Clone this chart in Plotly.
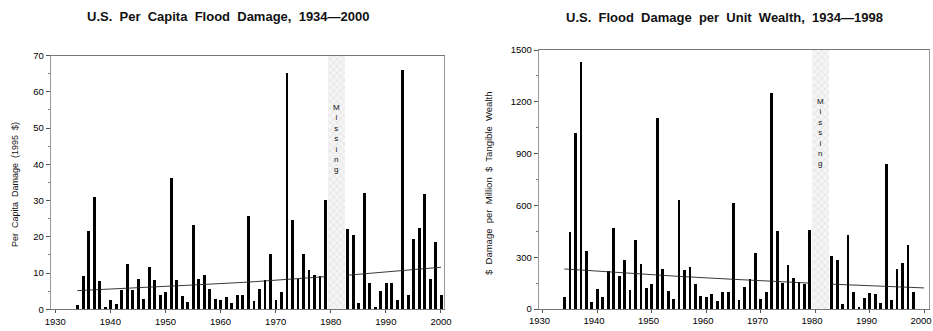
import plotly.graph_objects as go

# ---------------- data ----------------
years_a = list(range(1934, 1980)) + list(range(1983, 2001))
percap = [1.4, 9.3, 21.6, 31.1, 7.9, 0.9, 2.8, 1.7, 5.6, 12.6,
          5.4, 8.5, 3.1, 11.7, 8.3, 4.1, 4.8, 36.4, 8.3, 3.8,
          2.2, 23.4, 8.6, 9.5, 5.8, 3.1, 2.6, 3.5, 1.9, 4.0,
          4.1, 25.9, 2.3, 5.7, 8.1, 15.5, 2.8, 5.0, 65.3, 24.8,
          8.5, 15.3, 11.1, 9.7, 9.4, 30.2,
          22.3, 20.6, 2.0, 32.2, 7.4, 0.9, 5.1, 7.4, 7.3, 2.8,
          66.2, 4.2, 19.4, 22.6, 32.0, 8.6, 18.7, 4.2]
trend_a_years = [1934, 1945, 1955, 1965, 1979, None, 1983, 1990, 2000]
trend_a = [5.15, 5.9, 6.7, 7.5, 9.0, None, 9.4, 10.3, 11.6]

years_b = list(range(1934, 1980)) + list(range(1983, 1999))
perwealth = [71, 446, 1020, 1428, 338, 41, 118, 71, 220, 469,
             191, 284, 110, 402, 263, 124, 145, 1106, 234, 106,
             60, 633, 228, 241, 147, 75, 68, 85, 48, 97,
             100, 612, 54, 125, 176, 324, 56, 98, 1249, 454,
             153, 253, 181, 156, 147, 456,
             307, 286, 27, 430, 97, 12, 62, 91, 89, 33,
             838, 52, 234, 266, 373, 97]
trend_b_years = [1934, 1945, 1955, 1965, 1979, None, 1983, 1990, 2000]
trend_b = [232, 208, 189, 172, 150, None, 144, 135, 122]

missing_years = [1980, 1981, 1982]
xticks = [1930, 1940, 1950, 1960, 1970, 1980, 1990, 2000]
yticks_a = [0, 10, 20, 30, 40, 50, 60, 70]
yticks_b = [0, 300, 600, 900, 1200, 1500]

title_a = "U.S.  Per  Capita  Flood  Damage,  1934\u20142000"
title_b = "U.S.  Flood  Damage  per  Unit  Wealth,  1934\u20141998"
ytitle_a = "Per  Capita  Damage  (1995  $)"
ytitle_b = "$  Damage  per  Million  $  Tangible  Wealth"

# ---------------- figure ----------------
FONT = "Liberation Sans, Arial, Helvetica, sans-serif"
fig = go.Figure()

miss_center = sum(missing_years) / len(missing_years)
miss_width = len(missing_years)

for xa, ya, ymax in (("x", "y", yticks_a[-1]), ("x2", "y2", yticks_b[-1])):
    fig.add_trace(go.Bar(
        x=[miss_center], y=[ymax], width=[miss_width + 0.1],
        xaxis=xa, yaxis=ya, showlegend=False, hoverinfo="skip",
        marker=dict(color="#f3f3f3", line=dict(width=0),
                    pattern=dict(shape="x", fgcolor="#c4c4c4", bgcolor="#f5f5f5",
                                 size=5, solidity=0.12, fillmode="replace")),
    ))

fig.add_trace(go.Bar(x=years_a, y=percap, width=0.52, marker_color="black",
                     marker_line_width=0, xaxis="x", yaxis="y", showlegend=False))
fig.add_trace(go.Bar(x=years_b, y=perwealth, width=0.52, marker_color="black",
                     marker_line_width=0, xaxis="x2", yaxis="y2", showlegend=False))

fig.add_trace(go.Scatter(x=trend_a_years, y=trend_a, mode="lines",
                         line=dict(color="#222", width=0.9), connectgaps=False,
                         xaxis="x", yaxis="y", showlegend=False))
fig.add_trace(go.Scatter(x=trend_b_years, y=trend_b, mode="lines",
                         line=dict(color="#222", width=0.9), connectgaps=False,
                         xaxis="x2", yaxis="y2", showlegend=False))

W, H = 933, 331
tickfont = dict(family=FONT, size=9.5, color="#000")

common_x = dict(tickvals=xticks, ticks="outside", ticklen=3, tickcolor="#555",
                showline=True, linecolor="#777", linewidth=1, mirror=True,
                showgrid=False, zeroline=False, tickfont=tickfont, fixedrange=True,
                automargin=False, ticklabeloverflow="allow")
common_y = dict(ticks="outside", ticklen=4, tickcolor="#555",
                showline=True, linecolor="#999", linewidth=1, mirror=True,
                showgrid=False, zeroline=False, tickfont=tickfont, automargin=False,
                minor=dict(ticks="outside", ticklen=2, tickcolor="#777"))

fig.update_layout(
    template="none",
    width=W, height=H, margin=dict(l=0, r=0, t=0, b=0, autoexpand=False),
    paper_bgcolor="white", plot_bgcolor="white", barmode="overlay", bargap=0,
    font=dict(family=FONT, color="#111"),
    xaxis=dict(domain=[50.7 / W, 444 / W], range=[1929.17, 2000.55], anchor="y", **common_x),
    yaxis=dict(domain=[(H - 309.3) / H, (H - 55.5) / H], range=[0, 70], anchor="x",
               tickvals=yticks_a, minor_dtick=5, **common_y),
    xaxis2=dict(domain=[538.7 / W, 929.3 / W], range=[1929.3, 2000.97], anchor="y2",
                ticklabelshift=-3, **common_x),
    yaxis2=dict(domain=[(H - 309) / H, (H - 50) / H], range=[0, 1500], anchor="x2",
                tickvals=yticks_b, minor_dtick=150, **common_y),
)

miss_text = "<br>".join(list("Missing"))
annotations = [
    dict(text="<b>" + title_a + "</b>", x=228 / W, y=1 - 16 / H, xref="paper", yref="paper",
         showarrow=False, font=dict(family=FONT, size=13, color="#111"), xanchor="center", yanchor="middle"),
    dict(text="<b>" + title_b + "</b>", x=724 / W, y=1 - 18 / H, xref="paper", yref="paper",
         showarrow=False, font=dict(family=FONT, size=13, color="#111"), xanchor="center", yanchor="middle"),
    dict(text=ytitle_a, x=15 / W, y=1 - 185 / H, xref="paper", yref="paper", textangle=-90,
         showarrow=False, font=dict(family=FONT, size=9, color="#111"), xanchor="center", yanchor="middle"),
    dict(text=ytitle_b, x=488 / W, y=1 - 184 / H, xref="paper", yref="paper", textangle=-90,
         showarrow=False, font=dict(family=FONT, size=9.5, color="#111"), xanchor="center", yanchor="middle"),
    dict(text=miss_text, x=miss_center, y=0.672, xref="x", yref="y domain", showarrow=False,
         font=dict(family=FONT, size=8, color="#111"), xanchor="center", yanchor="middle"),
    dict(text=miss_text, x=miss_center, y=0.68, xref="x2", yref="y2 domain", showarrow=False,
         font=dict(family=FONT, size=8, color="#111"), xanchor="center", yanchor="middle"),
]
fig.update_layout(annotations=annotations)

fig.write_html("out.html")
